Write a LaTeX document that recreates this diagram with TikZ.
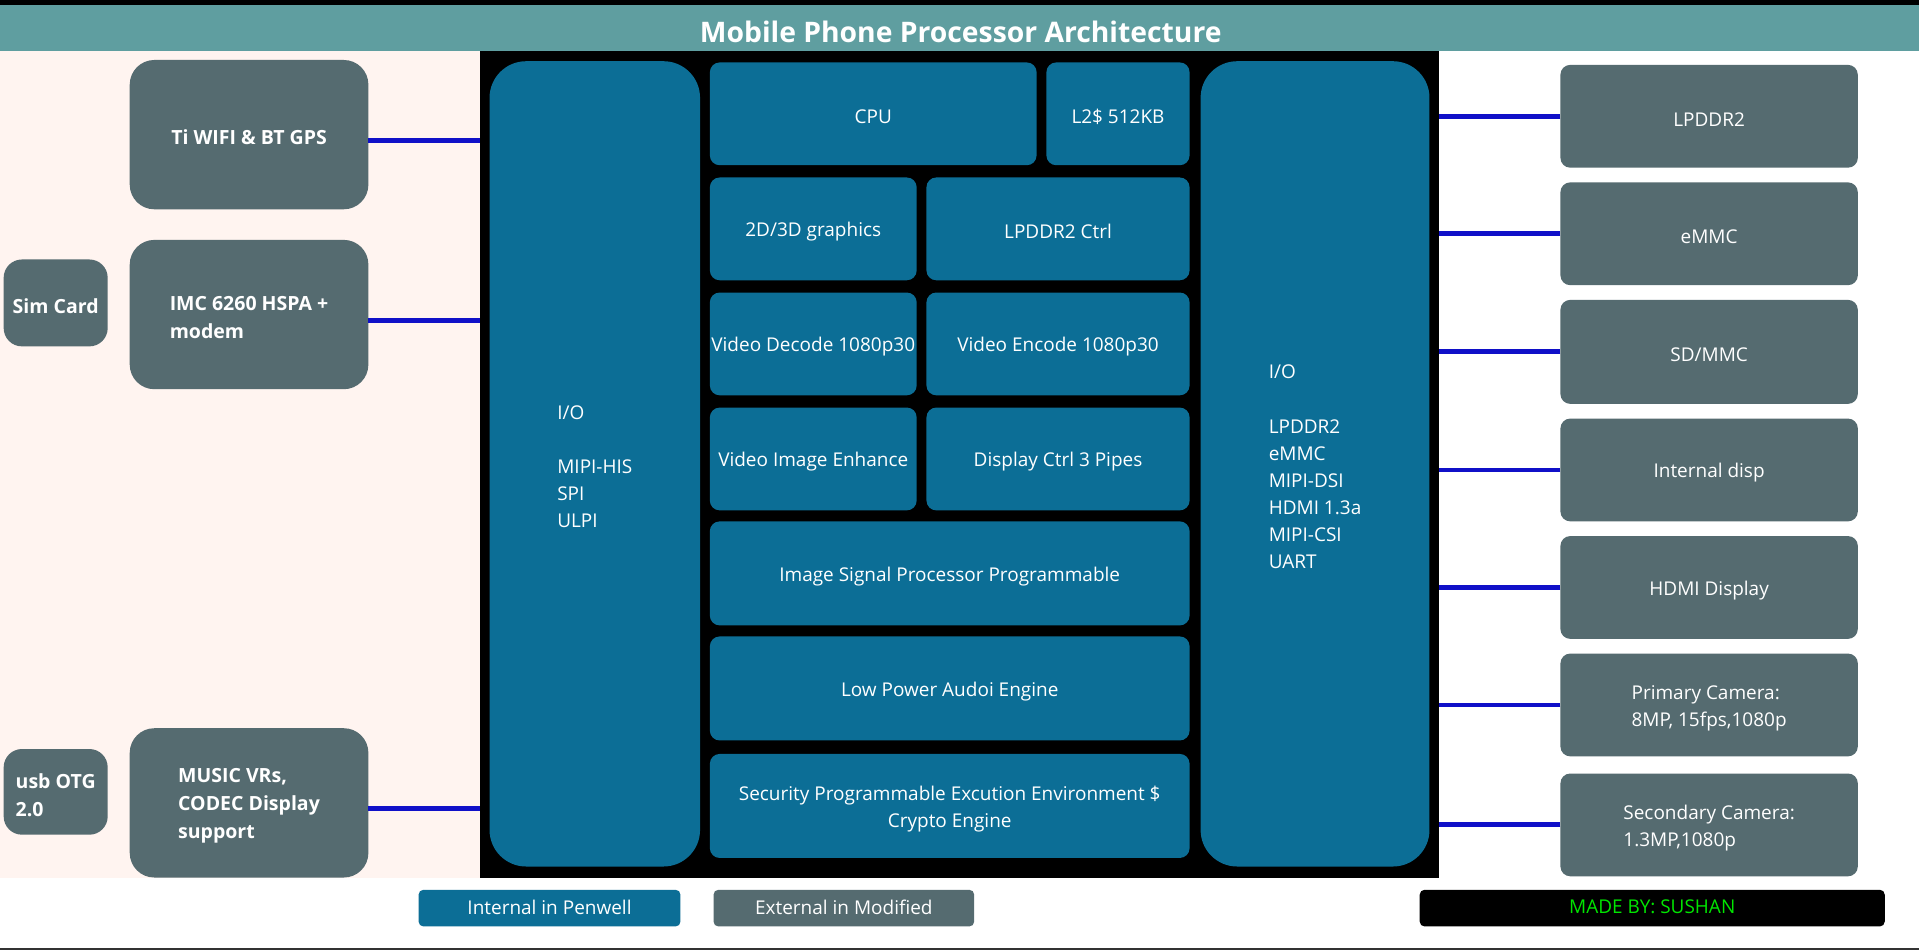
\documentclass[tikz,border=0pt]{standalone}
\usepackage{fontspec}
\setmainfont{Open Sans}

\definecolor{band}{HTML}{5F9EA0}
\definecolor{pinkbg}{HTML}{FFF4F0}
\definecolor{intc}{HTML}{0C6E96}
\definecolor{extc}{HTML}{556B70}
\definecolor{wire}{HTML}{1010C8}
\definecolor{lime}{HTML}{00E600}

% block from corner (x1,y1) to corner (x2,y2): name, x1, y1, x2, y2, style, text
% the box and its caption are two nodes; the caption sits a little low
\newcommand{\blockat}[7]{%
  \node[#6, minimum width={(#4-#2)*0.012239cm}, minimum height={(#5-#3)*0.012239cm}]
    (#1) at ({(#2+#4)/2},{(#3+#5)/2}) {};
  \node[#6, fill=none, caption shift] (#1-text) at (#1.center) {#7};}

\tikzset{
  x=0.012239cm, y=-0.012239cm,
  caption shift/.style={yshift=-0.85pt},
  body/.style={font=\fontsize{5.4pt}{7.7pt}\selectfont},
  boldbody/.style={font=\fontsize{5.55pt}{7.9pt}\selectfont\bfseries},
  area/.style={rectangle, inner sep=0pt, outer sep=0pt, text=white},
  inbox/.style={area, body, fill=intc, rounded corners=2.8pt, align=center},
  iobox/.style={area, body, fill=intc, rounded corners=10.4pt, align=left},
  extbox/.style={area, body, fill=extc, rounded corners=2.8pt, align=left},
  sidebox/.style={area, boldbody, fill=extc, rounded corners=7pt, align=left},
  smallbox/.style={area, boldbody, fill=extc, rounded corners=5.2pt, align=left},
  legendbox/.style={area, body, rounded corners=1.4pt},
  wireline/.style={draw=wire, line width=1.4pt},
}

\begin{document}
\begin{tikzpicture}
\useasboundingbox (0,0) rectangle (1568,776);
\fill[white] (0,0) rectangle (1568,776);

% page frame: top strip, title band, left panel, bottom rule
\fill[black] (0,0) rectangle (1568,4);
\fill[band] (0,4) rectangle (1568,42);
\node[text=white, font=\fontsize{8.05pt}{9pt}\selectfont\bfseries] (title) at (785,26) {Mobile Phone Processor Architecture};
\fill[pinkbg] (0,42) rectangle (392,717);
\fill[black!80] (0,774.5) rectangle (1568,776);

% processor die
\blockat{core}{392}{42}{1176}{717}{area, fill=black}{}

% I/O columns
\blockat{iol}{400}{50}{572}{708}{iobox}{I/O\\[7.7pt]MIPI-HIS\\SPI\\ULPI}
\blockat{ior}{981}{50}{1168}{708}{iobox}{I/O\\[7.7pt]LPDDR2\\eMMC\\MIPI-DSI\\HDMI 1.3a\\MIPI-CSI\\UART}

% internal blocks
\blockat{cpu}{580}{51}{847}{135}{inbox}{CPU}
\blockat{l2}{855}{51}{972}{135}{inbox}{L2\$ 512KB}
\blockat{gfx}{580}{145}{749}{229}{inbox}{2D/3D graphics}
\blockat{ddrc}{757}{145}{972}{229}{inbox}{LPDDR2 Ctrl}
\blockat{vdec}{580}{239}{749}{323}{inbox}{Video Decode 1080p30}
\blockat{venc}{757}{239}{972}{323}{inbox}{Video Encode 1080p30}
\blockat{vie}{580}{333}{749}{417}{inbox}{Video Image Enhance}
\blockat{disp}{757}{333}{972}{417}{inbox}{Display Ctrl 3 Pipes}
\blockat{isp}{580}{426}{972}{511}{inbox}{Image Signal Processor Programmable}
\blockat{audio}{580}{520}{972}{605}{inbox}{Low Power Audoi Engine}
\blockat{sec}{580}{616}{972}{701}{inbox}{Security Programmable Excution Environment \$\\Crypto Engine}

% external parts, left side
\blockat{wifi}{106}{49}{301}{171}{sidebox}{Ti WIFI \& BT GPS}
\blockat{modem}{106}{196}{301}{318}{sidebox}{IMC 6260 HSPA +\\modem}
\blockat{sim}{3}{212}{88}{283}{smallbox}{Sim Card}
\blockat{music}{106}{595}{301}{717}{sidebox}{MUSIC VRs,\\CODEC Display\\support}
\blockat{usb}{3}{612}{88}{682}{smallbox}{usb OTG\\2.0}

% external parts, right side
\blockat{lpddr}{1275}{53}{1518}{137}{extbox}{LPDDR2}
\blockat{emmc}{1275}{149}{1518}{233}{extbox}{eMMC}
\blockat{sdmmc}{1275}{245}{1518}{330}{extbox}{SD/MMC}
\blockat{idisp}{1275}{342}{1518}{426}{extbox}{Internal disp}
\blockat{hdmi}{1275}{438}{1518}{522}{extbox}{HDMI Display}
\blockat{cam1}{1275}{534}{1518}{618}{extbox}{Primary Camera:\\8MP, 15fps,1080p}
\blockat{cam2}{1275}{632}{1518}{716}{extbox}{Secondary Camera:\\1.3MP,1080p}

% links, left side
\foreach \n in {wifi,modem,music}{
  \coordinate (\n-tap) at ([yshift=-1.7pt]\n.east);
  \draw[wireline] (\n-tap) -- (\n-tap -| core.west);
}
% links, right side
\foreach \n in {lpddr,emmc,sdmmc,idisp,hdmi,cam1,cam2}{
  \draw[wireline] (\n.west) -- (\n.west -| core.east);
}

% legend and credit
\begin{scope}[caption shift/.style={yshift=0.3pt}]
\blockat{leg1}{342}{727}{556}{757}{legendbox, fill=intc}{Internal in Penwell}
\blockat{leg2}{583}{727}{796}{757}{legendbox, fill=extc}{External in Modified}
\blockat{credit}{1160}{727}{1540}{757}{legendbox, fill=black, text=lime}{MADE BY: SUSHAN}
\end{scope}
\end{tikzpicture}
\end{document}
